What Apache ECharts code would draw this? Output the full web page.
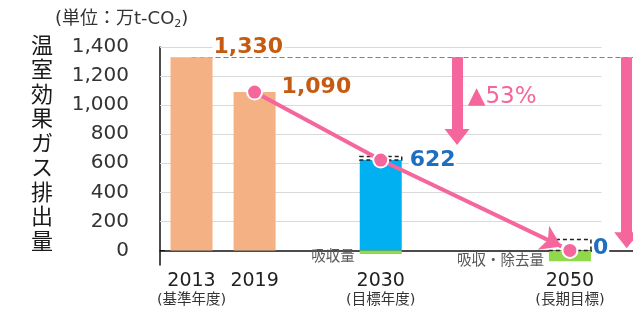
<!DOCTYPE html>
<html>
<head>
<meta charset="utf-8">
<script src="https://cdn.jsdelivr.net/npm/echarts@6/dist/echarts.min.js"></script>
<style>
html, body { margin: 0; background: #fff; }
#main { width: 633px; height: 313px; }
</style>
</head>
<body>
<div id="main"></div>
<script>
// 横軸は値軸で1枠=1。空き枠で年の間隔をあける
var years = ['2013', '2019', '2030', '2050']
var yearNotes = ['基準年度', '', '目標年度', '長期目標']
var slots = [0.5, 1.5, 3.5, 6.5]
var emissions = [1330, 1090, 622, 0]
var dashedPart = [null, null, 25, 75]
var absorption = [null, null, -25, -75]
var absorbNames = ['', '', '吸収量', '吸収・除去量']
var pathValues = [null, 1090, 622, 0]
var yTicks = [0, 200, 400, 600, 800, 1000, 1200, 1400]
var baseLine = 1330
// 削減矢印 [x, 始点, 終点]
var cutArrows = [[4.71, 1330, 780], [7.4, 1330, 70]]
var cutLabel = ['▲53%', 4.88, 1056]

var xMax = 7.5
var gridEnd = 7
var barW = 42
var pink = '#F5669C'
var font = "'DejaVu Sans', 'Noto Sans CJK JP', sans-serif"
var barColors = ['#F4B183', '#F4B183', '#00B0F0', 'rgba(0,0,0,0)']
var labelColors = ['#C55A11', '#C55A11', '#1F6FC0', '#1F6FC0']
var labelOffsets = [[0, -10], [5, -5], [7, 0], [1, -2]]

var chart = echarts.init(document.getElementById('main'))

var emissionData = emissions.map(function (v, i) {
    return {
        value: [slots[i], v],
        itemStyle: { color: barColors[i] },
        label: { color: labelColors[i], offset: labelOffsets[i] }
    }
})
// 点線の枠：排出量の上に吸収分だけ積む
var dashedData = []
var absorbData = []
for (let i = 0; i < years.length; i++) {
    if (dashedPart[i] != null) dashedData.push([slots[i], emissions[i], emissions[i] + dashedPart[i]])
    if (absorption[i] != null) absorbData.push({ name: absorbNames[i], value: [slots[i], absorption[i]] })
}
var pathData = []
for (let i = 0; i < years.length; i++) {
    if (pathValues[i] != null) pathData.push([slots[i], pathValues[i]])
}
// 矢印の先は最後の点の手前で止める
var from = pathData[pathData.length - 2]
var to = pathData[pathData.length - 1]
var stop = 0.955
var arrowTip = [from[0] + (to[0] - from[0]) * stop, from[1] + (to[1] - from[1]) * stop]

var gridLines = yTicks.filter(function (v) { return v > 0 }).map(function (v) {
    return [{ coord: [0, v] }, { coord: [gridEnd, v] }]
})
gridLines.push([
    { coord: [slots[0], baseLine], lineStyle: { color: '#7F7F7F', type: [5, 3], width: 1 } },
    { coord: [xMax, baseLine] }
])

chart.setOption({
    animation: false,
    textStyle: { fontFamily: font },
    title: [{
        text: '(単位：万t-CO{s|2})',
        left: 50,
        top: 4,
        textStyle: {
            fontSize: 18, fontWeight: 'normal', color: '#333',
            rich: { s: { fontSize: 11, verticalAlign: 'bottom', padding: [10, 0, 0, 0], color: '#333' } }
        }
    }, {
        text: '温\n室\n効\n果\nガ\nス\n排\n出\n量',
        left: 26,
        top: 30,
        textStyle: { fontSize: 22, lineHeight: 24.5, fontWeight: 'normal', color: '#1a1a1a' }
    }],
    grid: { left: 160, right: 0, top: 47, bottom: 48, containLabel: false, outerBoundsMode: 'none' },
    xAxis: {
        type: 'value',
        min: 0,
        max: xMax,
        splitLine: { show: false },
        axisTick: { show: false },
        axisLine: { show: true, onZero: true, lineStyle: { color: '#111', width: 1.5 } },
        axisLabel: {
            customValues: slots,
            margin: 6,
            formatter: function (v) {
                let i = slots.indexOf(v)
                if (i < 0) return ''
                if (yearNotes[i] == '') return '{y|' + years[i] + '}'
                return '{y|' + years[i] + '}\n{n|(' + yearNotes[i] + ')}'
            },
            rich: {
                y: { fontSize: 19, color: '#222', lineHeight: 21 },
                n: { fontSize: 14.5, color: '#333', lineHeight: 17 }
            }
        }
    },
    yAxis: {
        type: 'value',
        min: -100,
        max: 1400,
        splitLine: { show: false },
        axisLine: { show: true, lineStyle: { color: '#111', width: 1.5 } },
        axisTick: { show: true, inside: true, length: 5, customValues: yTicks, lineStyle: { color: '#111' } },
        axisLabel: {
            customValues: yTicks,
            margin: 31,
            fontSize: 20,
            color: '#333',
            formatter: function (v) { return v.toLocaleString('en-US') }
        }
    },
    series: [{
        // 目盛線と基準年の点線
        type: 'line',
        data: [],
        z: 1,
        silent: true,
        markLine: {
            z: 1,
            silent: true,
            symbol: 'none',
            label: { show: false },
            lineStyle: { color: '#D9D9D9', width: 1, type: 'solid' },
            data: gridLines
        }
    }, {
        type: 'custom',
        z: 4,
        silent: true,
        data: dashedData,
        encode: { x: 0, y: [1, 2] },
        renderItem: function (params, api) {
            let top = api.coord([api.value(0), api.value(2)])
            let bottom = api.coord([api.value(0), api.value(1)])
            return {
                type: 'rect',
                shape: { x: top[0] - barW / 2, y: top[1], width: barW, height: bottom[1] - top[1] },
                style: { fill: 'none', stroke: '#222', lineWidth: 1.5, lineDash: [4, 3] }
            }
        }
    }, {
        type: 'bar',
        barWidth: barW,
        barGap: '-100%',
        z: 3,
        data: emissionData,
        label: {
            show: true,
            position: ['100%', 0],
            align: 'left',
            verticalAlign: 'middle',
            fontSize: 22,
            lineHeight: 18,
            fontWeight: 'bold',
            backgroundColor: '#fff',
            padding: [0, 1],
            formatter: function (p) { return emissions[p.dataIndex].toLocaleString('en-US') }
        }
    }, {
        type: 'bar',
        barWidth: barW,
        barGap: '-100%',
        z: 3,
        data: absorbData,
        itemStyle: { color: '#8FD94A' },
        label: {
            show: true,
            position: 'left',
            distance: 5,
            offset: [0, 5],
            fontSize: 14.5,
            color: '#595959',
            formatter: '{b}'
        }
    }, {
        // 削減矢印
        type: 'line',
        data: [],
        z: 4,
        silent: true,
        markLine: {
            silent: true,
            symbol: ['none', 'triangle'],
            symbolSize: [25, 16],
            label: { show: false },
            lineStyle: { color: pink, width: 11, type: 'solid' },
            data: cutArrows.map(function (a) { return [{ coord: [a[0], a[1]] }, { coord: [a[0], a[2]] }] }),
        },
        markPoint: {
            silent: true,
            symbol: 'circle',
            symbolSize: 0,
            label: { show: true, position: 'inside', align: 'left', fontSize: 23, color: pink, formatter: cutLabel[0] },
            data: [{ coord: [cutLabel[1], cutLabel[2]] }]
        }
    }, {
        type: 'line',
        data: pathData.slice(0, pathData.length - 1),
        z: 5,
        showSymbol: false,
        lineStyle: { color: pink, width: 4 },
        markLine: {
            silent: true,
            symbol: ['none', 'arrow'],
            symbolSize: 20,
            label: { show: false },
            lineStyle: { color: pink, width: 4, type: 'solid' },
            data: [[{ coord: from }, { coord: arrowTip }]]
        }
    }, {
        type: 'scatter',
        data: pathData,
        z: 6,
        symbolSize: 15,
        itemStyle: { color: pink, borderColor: '#fff', borderWidth: 2, opacity: 1 }
    }]
})
</script>
</body>
</html>
